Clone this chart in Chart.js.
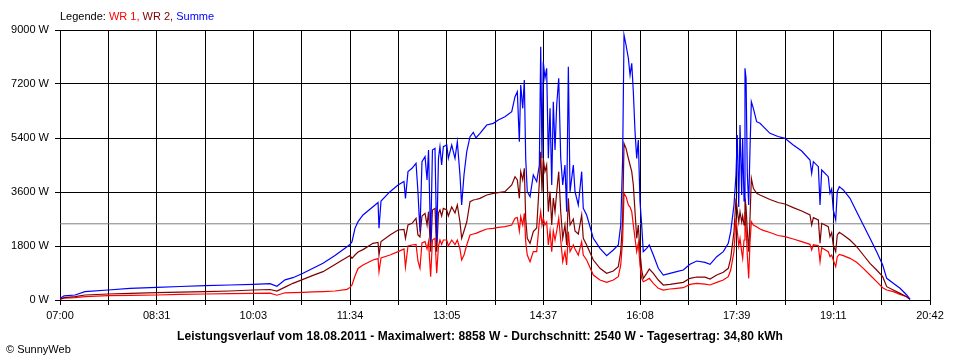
<!DOCTYPE html>
<html>
<head>
<meta charset="utf-8">
<title>Leistungsverlauf 18.08.2011</title>
<script src="https://cdn.jsdelivr.net/npm/chart.js@4.4.1/dist/chart.umd.min.js"></script>
<style>
  body { margin: 0; background: #ffffff; }
  #wrap { position: relative; width: 960px; height: 360px; font-family: "Liberation Sans", Arial, sans-serif; }
  #legend { position: absolute; left: 60px; top: 10px; font-size: 11px; color: #000; white-space: nowrap; }
  #footer { position: absolute; left: 0; width: 960px; top: 329px; text-align: center; font-size: 12px; font-weight: bold; letter-spacing: 0.1px; color: #000; white-space: nowrap; }
  #copy { position: absolute; left: 6px; top: 343px; font-size: 11px; color: #000; }
</style>
</head>
<body>
<div id="wrap">
  <canvas id="chart" width="960" height="360"></canvas>
  <div id="legend">Legende: <span style="color:#ff0000">WR 1,</span> <span style="color:#800000">WR 2,</span> <span style="color:#0000ff">Summe</span></div>
  <div id="footer">Leistungsverlauf vom 18.08.2011 - Maximalwert: 8858 W - Durchschnitt: 2540 W - Tagesertrag: 34,80 kWh</div>
  <div id="copy">&copy; SunnyWeb</div>
</div>
<script>
// minutes after 07:00
var times = [0, 3.8, 14.2, 23.6, 45.4, 66.1, 91.6, 113.4, 137.0, 160.6,
  182.4, 198.4, 205.0, 212.6, 220.1, 229.6, 239.0, 248.5, 259.8, 271.2,
  274.0, 275.9, 278.7, 281.6, 286.3, 295.7, 300.5, 301.4, 303.3, 311.8,
  319.4, 325.0, 326.4, 328.8, 332.6, 336.4, 338.2, 340.1, 342.0, 344.9,
  346.8, 348.2, 350.2, 351.9, 354.3, 355.9, 357.6, 359.0, 360.6, 362.2,
  365.4, 366.9, 370.1, 373.2, 375.4, 377.9, 379.5, 381.7, 384.3, 387.4,
  390.5, 393.0, 396.8, 403.2, 409.4, 414.1, 420.4, 426.8, 429.9, 432.1,
  434.0, 435.3, 437.2, 438.7, 440.0, 441.5, 444.1, 447.2, 450.4, 452.9,
  454.2, 455.4, 456.6, 458.2, 459.8, 461.4, 463.0, 464.6, 466.1, 467.7,
  469.3, 471.2, 473.1, 475.0, 477.1, 478.7, 480.3, 481.9, 485.0, 486.6,
  489.7, 492.9, 494.4, 497.6, 503.9, 510.2, 516.5, 522.8, 527.5, 529.8,
  531.6, 532.9, 534.8, 537.0, 538.6, 540.2, 541.7, 543.3, 544.9, 546.4,
  548.0, 549.6, 551.1, 554.3, 556.8, 560.6, 565.3, 570.0, 576.3, 582.7,
  588.9, 595.2, 601.6, 609.4, 614.2, 620.5, 626.7, 631.4, 633.7, 636.8,
  638.7, 639.9, 641.3, 642.5, 644.1, 645.0, 646.3, 647.2, 648.2, 649.4,
  650.7, 651.9, 653.2, 655.1, 658.2, 661.4, 664.5, 670.8, 678.4, 685.0,
  692.8, 700.8, 708.6, 710.2, 711.8, 716.5, 718.1, 719.7, 725.9, 727.5,
  729.1, 730.6, 732.9, 734.4, 736.3, 740.1, 746.4, 752.7, 759.0, 765.3,
  771.6, 777.3, 781.1, 787.3, 793.7, 800.0, 803.1];

var wr1 = [20, 60, 78, 111, 144, 156, 167, 185, 200, 212,
  222, 230, 160, 240, 245, 256, 270, 280, 300, 356,
  420, 500, 800, 1050, 1170, 1333, 1380, 944, 1400, 1500,
  1611, 1700, 1100, 1800, 1833, 1850, 1300, 1056, 1900, 1944,
  1700, 1944, 778, 2000, 2056, 889, 1800, 2000, 1850, 2000,
  2000, 1800, 2000, 1850, 2000, 1700, 1333, 1500, 1833, 2167,
  2200, 2220, 2278, 2367, 2389, 2420, 2444, 2500, 2722, 2750,
  2300, 2778, 2500, 2889, 1944, 1500, 1278, 1611, 1611, 2611,
  2944, 2500, 2722, 2500, 2600, 1833, 2300, 1611, 2300, 2000,
  2300, 2722, 2000, 1278, 1611, 1167, 2278, 1611, 1833, 1700,
  1500, 1944, 1500, 1333, 833, 667, 589, 667, 778, 1167,
  2000, 3556, 3444, 3167, 3100, 2944, 2500, 2056, 1611, 1900,
  1167, 722, 611, 667, 722, 556, 389, 333, 367, 389,
  411, 522, 556, 530, 500, 589, 667, 778, 1000, 1611,
  2722, 2300, 1800, 2056, 1600, 1389, 2000, 2944, 2400, 1500,
  722, 1900, 2611, 2500, 2444, 2367, 2320, 2250, 2150, 2111,
  2033, 1944, 1856, 1667, 1840, 1811, 1278, 1744, 1611, 1444,
  1500, 1333, 1111, 1444, 1522, 1478, 1389, 1256, 1056, 833,
  611, 411, 333, 278, 189, 111, 20];

var wr2 = [30, 80, 111, 167, 200, 222, 244, 260, 278, 300,
  333, 350, 300, 430, 556, 689, 820, 944, 1180, 1422,
  1480, 1389, 1500, 1600, 1680, 1889, 1920, 1500, 1950, 2167,
  2333, 2350, 2056, 2500, 2556, 2722, 2167, 2100, 2800, 2889,
  2500, 2944, 1611, 3000, 3056, 1611, 2900, 3000, 2800, 3056,
  3000, 2800, 3100, 2900, 3167, 2600, 2056, 2300, 2600, 3278,
  3333, 3350, 3389, 3500, 3556, 3580, 3611, 3833, 4111, 4000,
  3389, 4278, 4000, 4389, 2722, 2056, 1889, 2278, 2400, 3944,
  4944, 3611, 4722, 4278, 4500, 2944, 3611, 2500, 3400, 2944,
  3600, 4278, 2944, 2056, 2500, 1833, 3389, 2500, 2700, 2300,
  2200, 2833, 2056, 1833, 1333, 1056, 889, 967, 1111, 1611,
  2700, 5222, 5056, 4722, 4500, 4278, 3833, 2944, 2056, 2500,
  1611, 1000, 722, 889, 1033, 889, 667, 500, 522, 556,
  589, 722, 767, 760, 700, 833, 922, 1056, 1389, 2278,
  3389, 3000, 2600, 2944, 2600, 2800, 2500, 3389, 3100, 2300,
  1611, 2700, 4056, 3722, 3556, 3500, 3450, 3350, 3250, 3200,
  3078, 2967, 2833, 2500, 2744, 2667, 1889, 2556, 2444, 2111,
  2250, 1833, 1611, 2167, 2256, 2167, 2000, 1778, 1500, 1222,
  1000, 778, 444, 333, 222, 111, 20];

var summe = [50, 140, 167, 278, 333, 389, 422, 450, 478, 500,
  522, 545, 460, 670, 744, 889, 1060, 1222, 1480, 1778,
  1850, 1944, 2389, 2611, 2833, 3111, 3250, 2389, 3300, 3611,
  3833, 3950, 3389, 4278, 4389, 4556, 3611, 2280, 4611, 4778,
  4000, 5000, 1944, 5000, 5056, 1944, 4722, 5111, 4500, 5111,
  5167, 4722, 5167, 4722, 5278, 4167, 3167, 4167, 4944, 5444,
  5589, 5400, 5556, 5833, 5889, 6000, 6111, 6278, 6778, 6944,
  5278, 7167, 6389, 7333, 4722, 3611, 3444, 4167, 3944, 4500,
  8444, 4722, 7944, 7389, 7722, 4722, 6389, 3833, 6611, 5000,
  6500, 7389, 4722, 3833, 4500, 2944, 7778, 3611, 4500, 3611,
  3167, 4278, 3056, 2833, 2056, 1722, 1478, 1667, 1833, 2500,
  4722, 8833, 8500, 8056, 7500, 7889, 6944, 5611, 4722, 5333,
  3278, 2500, 1611, 1722, 1833, 1500, 1056, 833, 889, 944,
  1000, 1189, 1300, 1256, 1189, 1444, 1611, 1889, 2278, 3167,
  4167, 5500, 3100, 5833, 3500, 5389, 3300, 7722, 7389, 4200,
  3167, 5000, 6611, 6389, 5944, 5889, 5778, 5556, 5450, 5389,
  5167, 4967, 4667, 4222, 4611, 4444, 3167, 4333, 4111, 3556,
  3700, 3000, 2667, 3611, 3778, 3667, 3389, 2944, 2500, 2056,
  1611, 1167, 722, 556, 389, 167, 33];

var avgW = 2540;
var xTickLabels = ['07:00', '08:31', '10:03', '11:34', '13:05', '14:37', '16:08', '17:39', '19:11', '20:42'];
var dayMinutes = 822; // 07:00 .. 20:42

function toPoints(vals) {
  var pts = [];
  for (var i = 0; i < vals.length; i++) pts.push({ x: times[i], y: vals[i] });
  return pts;
}

Chart.defaults.font.family = '"Liberation Sans", Arial, sans-serif';
Chart.defaults.font.size = 11;
Chart.defaults.color = '#000000';

var ctx = document.getElementById('chart').getContext('2d');
new Chart(ctx, {
  type: 'line',
  data: {
    datasets: [
      { label: 'Summe', data: toPoints(summe), borderColor: '#0000ff', borderWidth: 1.2, order: 0 },
      { label: 'WR 2', data: toPoints(wr2), borderColor: '#800000', borderWidth: 1.2, order: 1 },
      { label: 'WR 1', data: toPoints(wr1), borderColor: '#ff0000', borderWidth: 1.2, order: 2 },
      { label: 'Durchschnitt', data: [{ x: 0, y: avgW }, { x: dayMinutes, y: avgW }], borderColor: '#808080', borderWidth: 1, order: 3 }
    ]
  },
  options: {
    responsive: false,
    animation: false,
    events: [],
    layout: { padding: { top: 30, right: 30, left: 0, bottom: 0 } },
    elements: { point: { radius: 0 }, line: { tension: 0 } },
    plugins: { legend: { display: false }, tooltip: { enabled: false } },
    scales: {
      x: {
        type: 'linear',
        min: 0,
        max: dayMinutes,
        afterFit: function(s) { s.height = 60; },
        afterBuildTicks: function(s) {
          var t = [];
          for (var k = 0; k <= 18; k++) t.push({ value: k * dayMinutes / 18 });
          s.ticks = t;
        },
        grid: { color: '#000000', lineWidth: 1, tickLength: 5, tickColor: '#000000' },
        border: { color: '#000000' },
        ticks: {
          autoSkip: false,
          maxRotation: 0,
          padding: 4,
          callback: function(v, i) { return i % 2 === 0 ? xTickLabels[i / 2] : ''; }
        }
      },
      y: {
        min: 0,
        max: 9000,
        afterFit: function(s) { s.width = 60; },
        grid: { color: '#000000', lineWidth: 1, tickLength: 5, tickColor: '#000000' },
        border: { color: '#000000' },
        ticks: {
          stepSize: 1800,
          padding: 6,
          callback: function(v) { return v + ' W'; }
        }
      }
    }
  }
});
</script>
</body>
</html>
